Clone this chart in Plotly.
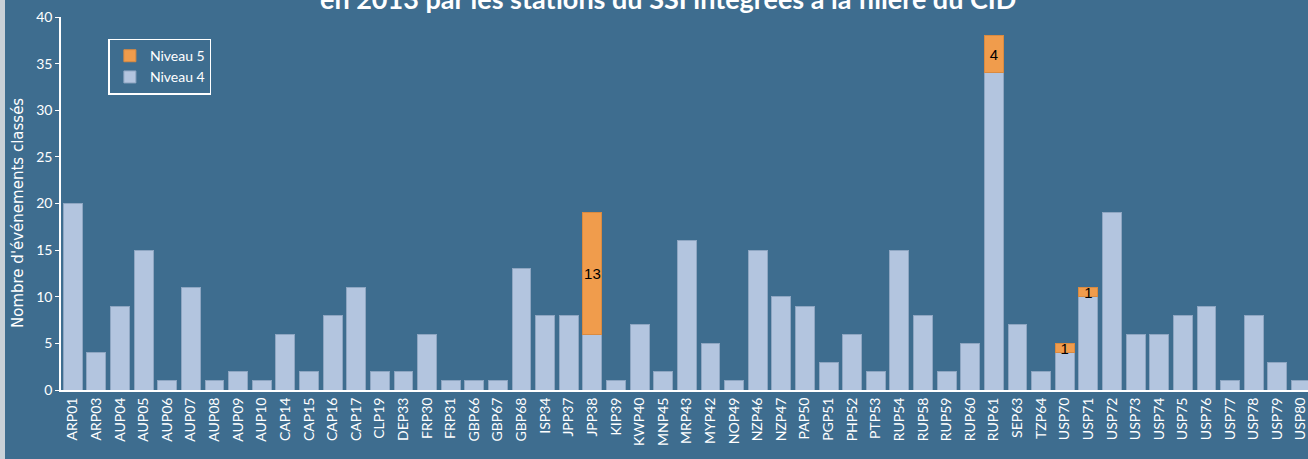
import plotly.graph_objects as go

stations = ["ARP01","ARP03","AUP04","AUP05","AUP06","AUP07","AUP08","AUP09","AUP10",
            "CAP14","CAP15","CAP16","CAP17","CLP19","DEP33","FRP30","FRP31","GBP66","GBP67",
            "GBP68","ISP34","JPP37","JPP38","KIP39","KWP40","MNP45","MRP43","MYP42","NOP49",
            "NZP46","NZP47","PAP50","PGP51","PHP52","PTP53","RUP54","RUP58","RUP59","RUP60",
            "RUP61","SEP63","TZP64","USP70","USP71","USP72","USP73","USP74","USP75","USP76",
            "USP77","USP78","USP79","USP80"]
niveau4 = [20,4,9,15,1,11,1,2,1,
           6,2,8,11,2,2,6,1,1,1,
           13,8,8,6,1,7,2,16,5,1,
           15,10,9,3,6,2,15,8,2,5,
           34,7,2,4,10,19,6,6,8,9,
           1,8,3,1]
niveau5 = [0,0,0,0,0,0,0,0,0,
           0,0,0,0,0,0,0,0,0,0,
           0,0,0,13,0,0,0,0,0,0,
           0,0,0,0,0,0,0,0,0,0,
           4,0,0,1,1,0,0,0,0,0,
           0,0,0,0]
y_ticks = [0,5,10,15,20,25,30,35,40]

BG = "#3e6d8f"
FONT = "Lato"

n5_vals = [v if v else None for v in niveau5]

fig = go.Figure()
fig.add_trace(go.Bar(
    x=stations, y=niveau4, name="Niveau 4",
    marker=dict(color="#b3c5df", line=dict(color="#8ea6c2", width=1)),
))
fig.add_trace(go.Bar(
    x=stations, y=n5_vals, name="Niveau 5",
    marker=dict(color="#f09c4c", line=dict(color="#d98a40", width=1)),
    text=[str(v) if v else "" for v in niveau5],
    textposition="inside", insidetextanchor="middle", constraintext="none",
    textangle=0,
    textfont=dict(color="black", size=15, family="Liberation Sans"),
    cliponaxis=False,
))

fig.update_layout(
    width=1308, height=459,
    barmode="stack", bargap=0.2,
    paper_bgcolor=BG, plot_bgcolor=BG,
    margin=dict(l=61, r=0, t=17, b=69),
    font=dict(family=FONT, color="white", size=13),
    showlegend=True,
    legend=dict(x=0.038, y=0.942, xanchor="left", yanchor="top",
                traceorder="reversed", bgcolor="rgba(0,0,0,0)",
                bordercolor="white", borderwidth=1.5,
                font=dict(family=FONT, size=14, color="white"),
                itemwidth=30, tracegroupgap=2),
    xaxis=dict(range=[-0.5, 52.3], tickangle=-90, showgrid=False,
               showline=True, linecolor="white", linewidth=2,
               ticks="", tickfont=dict(family=FONT, size=14, color="white")),
    yaxis=dict(range=[0, 40], tickvals=y_ticks, showgrid=False, zeroline=False,
               showline=True, linecolor="white", linewidth=1.5,
               ticks="outside", tickcolor="white", ticklen=4,
               tickfont=dict(family=FONT, size=14, color="white")),
)

fig.add_annotation(
    text="Nombre d'événements classés",
    xref="paper", yref="paper", x=-43/1247, y=(390-213)/373,
    xanchor="center", yanchor="middle", textangle=-90, showarrow=False,
    font=dict(family="DejaVu Sans", size=15, color="white"),
)

fig.add_annotation(
    text="<b>Nombre d'événements classés<br>en 2013 par les stations du SSI intégrées à la filière du CID</b>",
    xref="paper", yref="paper", x=0.487, y=1.0, xanchor="center", yanchor="bottom",
    showarrow=False, font=dict(family=FONT, size=27, color="white"),
)

fig.add_shape(type="rect", xref="paper", yref="paper",
              x0=-61/1247, x1=-56/1247, y0=-69/373, y1=1+17/373,
              fillcolor="#c9d1d8", line=dict(width=0), layer="below")

fig.write_html("out.html", config={"displayModeBar": False},
               post_script="document.body.style.margin='0px';")
